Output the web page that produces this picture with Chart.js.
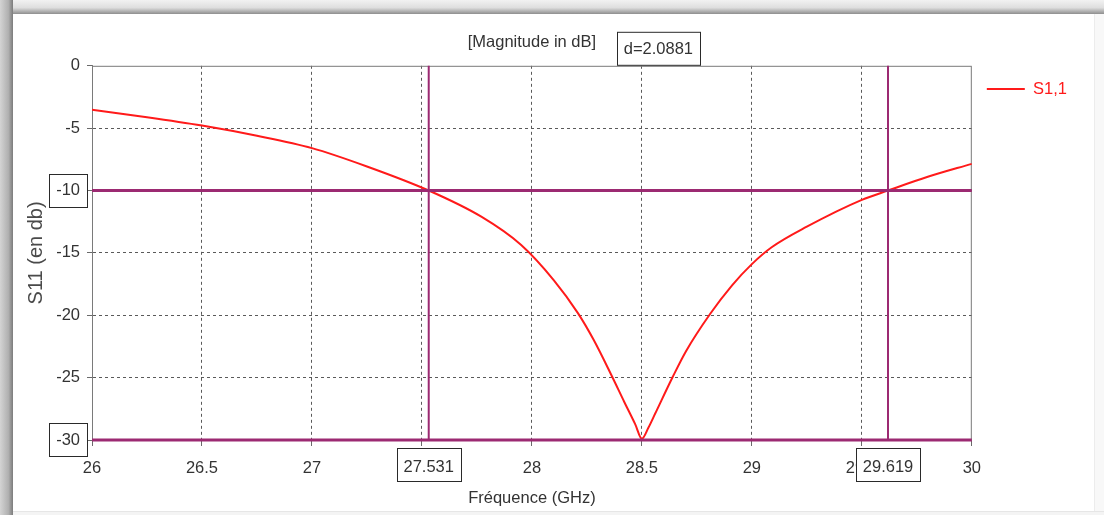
<!DOCTYPE html>
<html>
<head>
<meta charset="utf-8">
<title>S11</title>
<script src="https://cdn.jsdelivr.net/npm/chart.js@4"></script>
<style>
    html, body { margin: 0; padding: 0; width: 1104px; height: 515px; overflow: hidden; background: #ffffff; }
    #frame-top { position: absolute; left: 0; top: 0; width: 1104px; height: 14px; background: linear-gradient(#f2f2f2, #dedede 55%, #8e8e8e); }
    #frame-left { position: absolute; left: 0; top: 0; width: 13px; height: 515px; background: linear-gradient(to right, #d4d4d4, #b0b0b0 65%, #7c7c7c); }
    #frame-right { position: absolute; right: 0; top: 14px; width: 9px; height: 501px; background: #f8f8f8; border-left: 1px solid #ececec; }
    #frame-bottom { position: absolute; left: 13px; bottom: 0; width: 1091px; height: 3px; background: #f4f4f4; border-top: 1px solid #e6e6e6; }
    #chart { position: absolute; left: 0; top: 0; }
</style>
</head>
<body>
<div id="frame-top"></div>
<div id="frame-left"></div>
<div id="frame-right"></div>
<div id="frame-bottom"></div>
<canvas id="chart" width="1104" height="515"></canvas>
<script>
// S1,1 curve (GHz, dB)
const freqGHz = [26, 26.25, 26.5, 26.75, 27, 27.25, 27.531, 27.77, 27.95, 28.1, 28.21, 28.28, 28.36, 28.42, 28.47, 28.5,
                 28.53, 28.56, 28.64, 28.7, 28.81, 28.91, 29, 29.09, 29.25, 29.5, 29.619, 29.8, 30];
const s11dB = [-3.53, -4.12, -4.79, -5.61, -6.6, -8.07, -10, -12.1, -14.35, -17.2, -19.85, -21.95, -24.75, -26.95, -28.75, -29.9,
               -29.0, -27.9, -24.95, -22.9, -19.9, -17.6, -15.9, -14.55, -12.9, -10.75, -10, -8.9, -7.86];

// marker lines
const markerFreqs = [27.5309, 29.6190];
const markerLevels = [-10, -30];

// axes
const xRange = [26, 30];
const yRange = [-30, 0];
const xStep = 0.5;
const yStep = 5;

const SANS = "'Liberation Sans', Arial, sans-serif";
const FS = 16.5;
const TEXT = '#333333';
const MARKER = '#9c2a72';
const CURVE = '#ff1a1a';

const curvePoints = freqGHz.map((f, i) => ({ x: f, y: s11dB[i] }));

const markerSets = [];
markerLevels.forEach(v => markerSets.push({
    label: 'marker',
    data: [{ x: xRange[0], y: v }, { x: xRange[1], y: v }],
    borderColor: MARKER, borderWidth: 3, pointRadius: 0, clip: false
}));
markerFreqs.forEach(f => markerSets.push({
    label: 'marker',
    data: [{ x: f, y: yRange[1] }, { x: f, y: yRange[0] }],
    borderColor: MARKER, borderWidth: 2, pointRadius: 0, clip: false
}));

// boxes: plot frame, boxed tick labels, delta label
const boxesPlugin = {
    id: 'boxes',
    beforeDatasetsDraw(chart) {
        const { ctx, chartArea: a } = chart;
        ctx.save();
        ctx.strokeStyle = '#7a7a7a';
        ctx.lineWidth = 1;
        ctx.strokeRect(a.left + 0.5, a.top + 0.5, a.right - a.left - 1, a.bottom - a.top);
        ctx.restore();
    },
    afterDraw(chart) {
        const { ctx, chartArea: a } = chart;
        const xs = chart.scales.x, ys = chart.scales.y;
        ctx.save();
        ctx.font = FS + 'px ' + SANS;
        ctx.textAlign = 'center';
        ctx.textBaseline = 'middle';
        ctx.strokeStyle = '#2a2a2a';
        ctx.lineWidth = 1;

        // y labels at the horizontal markers
        markerLevels.forEach(v => {
            const y = Math.round(ys.getPixelForValue(v));
            const right = ys.right - 5;
            ctx.strokeRect(49.5, y - 16.5, right - 49, 33);
        });

        // x labels at the vertical markers
        markerFreqs.forEach(f => {
            const x = xs.getPixelForValue(f);
            const txt = f.toFixed(3);
            const w = Math.round(ctx.measureText(txt).width + 14);
            const l = Math.round(x - w / 2) + 0.5;
            ctx.fillStyle = '#ffffff';
            ctx.fillRect(l, 448.5, w, 33);
            ctx.strokeRect(l, 448.5, w, 33);
            ctx.fillStyle = TEXT;
            ctx.fillText(txt, x, 467);
        });

        // delta between markers
        const d = 'd=' + (markerFreqs[1] - markerFreqs[0]).toFixed(4);
        const cx = xs.getPixelForValue((markerFreqs[0] + markerFreqs[1]) / 2);
        const w = Math.round(ctx.measureText(d).width + 14);
        const l = Math.round(cx - w / 2) + 0.5;
        ctx.fillStyle = '#ffffff';
        ctx.fillRect(l, a.top - 33.5, w, 33);
        ctx.strokeRect(l, a.top - 33.5, w, 33);
        ctx.fillStyle = TEXT;
        ctx.fillText(d, cx, a.top - 16);
        ctx.restore();
    }
};

const edgeless = (lo, hi) => c => (c.tick && (c.tick.value === lo || c.tick.value === hi)) ? 'rgba(0,0,0,0)' : '#5a5a5a';

new Chart(document.getElementById('chart').getContext('2d'), {
    type: 'line',
    data: {
        datasets: markerSets.concat([{
            label: 'S1,1',
            data: curvePoints,
            borderColor: CURVE,
            borderWidth: 2,
            pointRadius: 0,
            cubicInterpolationMode: 'monotone'
        }])
    },
    options: {
        responsive: false,
        animation: false,
        events: [],
        layout: { padding: { left: 14, top: 12, right: 27, bottom: 3 } },
        scales: {
            x: {
                type: 'linear',
                min: xRange[0], max: xRange[1],
                ticks: {
                    stepSize: xStep, color: TEXT, padding: 13, maxRotation: 0, font: { family: SANS, size: FS },
                    callback: v => String(Number(v.toFixed(1)))
                },
                grid: { color: edgeless(xRange[0], xRange[1]), tickColor: '#6a6a6a', tickLength: 6, tickBorderDash: [] },
                border: { dash: [3, 3], color: '#7a7a7a' },
                title: { display: true, text: 'Fréquence (GHz)', color: TEXT, padding: { top: 0, bottom: 4 }, font: { family: SANS, size: FS } },
                afterFit: s => { s.height = 72; }
            },
            y: {
                min: yRange[0], max: yRange[1],
                ticks: { stepSize: yStep, color: TEXT, padding: 7, font: { family: SANS, size: FS } },
                grid: { color: edgeless(yRange[0], yRange[1]), tickColor: '#6a6a6a', tickLength: 5, tickBorderDash: [] },
                border: { dash: [3, 3], color: '#7a7a7a' },
                title: { display: true, text: 'S11 (en db)', color: '#4a4a4a', padding: { top: 10, bottom: 0 }, font: { family: SANS, size: 20 } },
                afterFit: s => { s.width = 78; }
            }
        },
        plugins: {
            title: {
                display: true, text: '[Magnitude in dB]', color: TEXT, fullSize: false,
                padding: { top: 21, bottom: 13 }, font: { family: SANS, size: FS, weight: 'normal' }
            },
            legend: {
                position: 'right', align: 'start', fullSize: false,
                labels: {
                    filter: item => item.text === 'S1,1',
                    usePointStyle: true, pointStyle: 'line', pointStyleWidth: 38,
                    padding: 15, color: CURVE, font: { family: SANS, size: FS }
                }
            },
            tooltip: { enabled: false }
        }
    },
    plugins: [boxesPlugin]
});
</script>
</body>
</html>
